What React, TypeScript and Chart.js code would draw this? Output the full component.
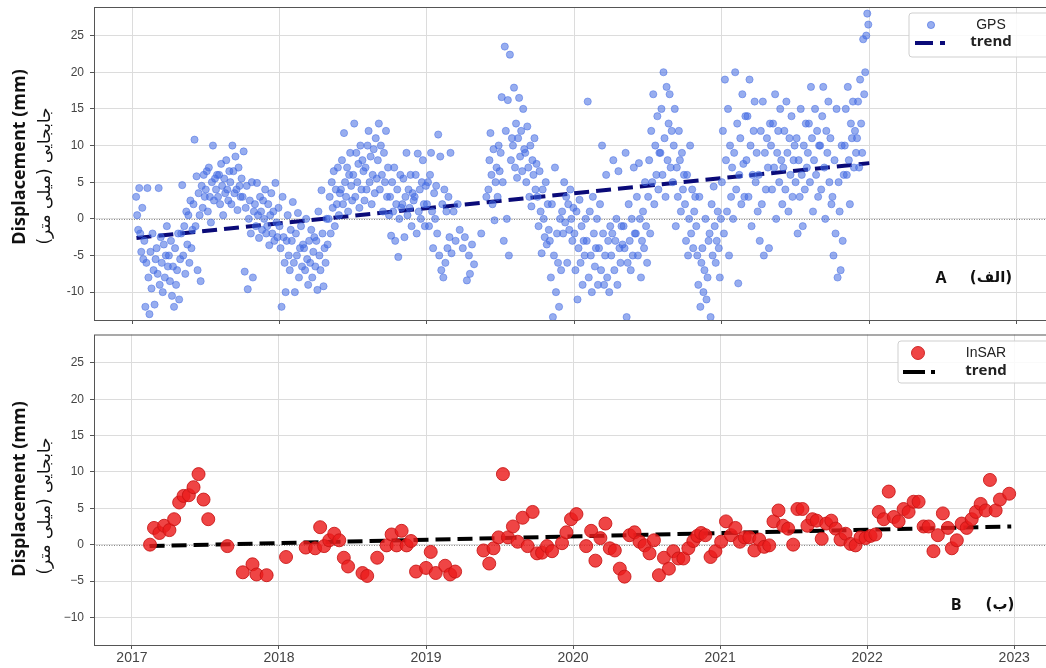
import React, { useEffect, useRef } from "react";
import { Chart, registerables } from "chart.js";

Chart.register(...registerables);

// ---------- axes ----------
const xTicks = [2017, 2018, 2019, 2020, 2021, 2022, 2023];
const yTicks = [-10, -5, 0, 5, 10, 15, 20, 25];
const X_MIN = 2016.742;
const X_MAX = 2023.247;
const Y_MIN = -13.8;
const Y_MAX = 28.9;

// ---------- GPS (daily series; one entry ~every 2.5 days) ----------
const GPS_STEP = 1 / 144;
const gpsYears = [2017, 2018, 2019, 2020, 2021];
const gpsOffsets = [4, 0, 0, 0, 0];
const gps2017 = [
  3, 0.5, -1.5, 4.2, -2, -4.5, 1.5, -5.5,
  -3, -12, -6, 4.2, -8, -13, -4.5, -9.5, -2, -7, -11.7, -5.5,
  -4, -7.5, 4.2, -9, -2.5, -6, -10, -3.5, -8, -5, -1, -6.5,
  -5, -8.5, -3, -10.5, -6.5, -12, -4, -9, -7, -2, -11, -5.5,
  -2, 4.6, -5, -1, -7.5, 1, -3.5, 0.5, -6, 2.5, -4, -1.5,
  2, 10.8, -1, 5.8, -7, 3.5, 0.5, -8.5, 4.5, 1.5, 6, 3,
  4, 6.5, 1, 7, 3, -0.5, 5, 10, 2.5, 5.5, 4, 6,
  3, 6, 2, 7.5, 4.5, 0.5, 5.5, 3.5, 8, 4, 2.5, 6.5,
  5, 2, 10, 6.5, 3.5, 8.5, 4, 1.2, 7, 4.5, 3, 5.5,
  3, 9.2, -7.2, 1.5, 4.5, -9.6, 0, 2.5, -2, 5, -8, 1,
  2, -1, 4.9, 0.5, -2.6, 3, 1, -1.5, 2.5, 0, 4, -2,
  -1, 2, -3.6, 0.5, 3.5, -2, 1, -3, 4.9, -0.5, -2.5, 1.5,
];
const gps2018 = [
  -1, -4, -12, 3, -2.5, -6, -10, -3, 0.5, -5, -7, -1.5,
  -3, 2.3, -6, -10, -2, -5, 0.8, -8, -4, -1, -6.5, -3.5,
  -4, -7, 0, -5.5, -9, -3, -6, -1.5, -8, -4.5, -2.5, -6.5,
  -3, -9.7, 1, -5, -7, 3.9, -2, -9.2, -4, -6, 0, -3.5,
  0, 3, -2, 5, 1.5, 6.5, -1, 4, 2, 7, 0.5, 3.5,
  4, 8, 2, 11.7, 5, 3, 7, 1, 6, 9, 4.5, 2.5,
  6, 13, 3, 9, 5, 7.5, 1.5, 10, 4, 8, 6.5, 2.5,
  7, 4, 10, 12, 5, 8.5, 2, 6, 9.5, 3.5, 11, 5.5,
  8, 13, 4, 10, 6, 1, 9, 5, 12, 3, 7, 0.5,
  3, -2.3, 5, 1, 7, -3, 2, 4, -5.2, 0, 6, 1.5,
  2, 5.5, -2.5, 3, 9, 0.5, 4, 1.5, 6, -1, 3.5, 2.5,
  3, 6, -2, 8.9, 1, 4, 0, 5, 8, 2, -1, 4.5,
];
const gps2019 = [
  2, 5, -1, 6, 9, 1, -4, 3.5, 0, 4.5, -2, 11.5,
  -5, 8.5, -7, 2, -8, 4, -6, 1, -4, 3, -2.5, 9,
  -4.7, null, 1, null, -3, null, 2, null, -1.5, null, null, -4,
  null, -2.5, null, -8.4, null, -5, -7.5, null, -3.5, null, -6.2, null,
  null, null, null, null, null, -2, null, null, null, null, 3, null,
  4, 8, 11.7, 6, 2, 9.5, -0.2, 5, 7, 3, 10, 6.5,
  9, 16.6, 5, -3, 23.5, 12, 0, 16.2, -5, 22.4, 8, 11,
  10, 17.9, 7, 13, 5.6, 11, 16.5, 8.5, 12, 6.5, 15, 9.5,
  9, 5, 12.6, 7, 3, 10, 1.7, 8, 6, 11, 4, 7.5,
  3, -1, 6.5, 1, -4.7, 4, 0, -2.5, 5, -3.5, 2, -1.5,
  -3, -8, 2, -13.4, -5, 7, -10, -2, -6, -12, 0, -7,
  1, -2, 5, -0.5, 3, -6, 2, -1.5, 4, 0, -3, 1.5,
];
const gps2020 = [
  -2, -7, 1, -11, -4, 2.6, -6, -1, -9, -3, -5, 0,
  -3, 16, -8, 1, -5, -10, 3, -2, -6.5, -4, 0, -9,
  -4, 2, -7, 10, -2, -9, -5, 6, -8, -3, -10, -1,
  -5, -2, 8, -7, -3, 0, -9, 6.5, -4, -6, -1, -3.5,
  -1, -4, 9, -13.4, -6, 2, -3, -7, 0, -5, 7, -2,
  -2, 3, -5, 7.6, 0, -8, -3, 1, -4, 5, -1, -6,
  3, 8, -2, 12, 5, 17, 2, 10, 6, 14, 4, 9,
  9, 15, 6, 20, 11, 3, 18, 8, 13, 17, 7, 12,
  5, 10, 15, -1, 7, 3, 12, 8, 1, 9, 4, 6,
  2, -3, 6, -5, 0, 10, -2, 4, -4, 1, 3, -1,
  -5, -9, 3, -12, -6, -4, -10, -7, 0, -11, -8, -3,
  -2, -13.4, 2, -5, 4.4, -1, -6, -3, 1, -4, -8, 0,
];
const gps2021 = [
  5, 12, -2, 19, 8, 1, 15, -5, 10, 3, 7, 0,
  9, 20, 4, 13, -8.8, 6, 11, 2, 17, 7.5, 3, 14,
  8, 14, 3, 19, 10, -1, 6, 12, 16, 5, 9, 1,
  6, -3, 12, 2, 16, -5, 9, 4, 11, 7, -4, 13,
  10, 4, 13, 7, 17, 0, 9, 12, 5, 15, 8, 2,
  7, 12, 4, 16, 9, 1, 11, 6, 14, 3, 8, 10,
  5, 11, -2, 8, 3, 15, 6, -1, 10, 4, 13, 7,
  9, 13, 5, 18, 11, 1, 8, 15, 6, 12, 3, 10,
  10, 4, 14, 18, 7, 0, 12, 9, 16, 5, 11, 2,
  3, -5, 8, -2, 15, -8, 5, 1, -7, 10, -3, 6,
  10, 15, 6, 18, 8, 2, 13, 11, 16, 7, 12, 9,
  11, 16, 7, 19, 13, 9, 24.5, 17, 20, 25, 28, 26.5,
];
const gpsSeries = [gps2017, gps2018, gps2019, gps2020, gps2021];

const gpsTrendX = [2017.03, 2022.0];
const gpsTrendY = [-2.6, 7.6];

// ---------- InSAR ----------
const insarDates = [
  2017.123, 2017.15, 2017.187, 2017.219, 2017.255, 2017.287, 2017.321, 2017.351, 2017.387, 2017.419,
  2017.453, 2017.487, 2017.519, 2017.649, 2017.754, 2017.82, 2017.847, 2017.916, 2018.048, 2018.182,
  2018.246, 2018.28, 2018.307, 2018.342, 2018.376, 2018.41, 2018.441, 2018.47, 2018.568, 2018.6,
  2018.668, 2018.732, 2018.766, 2018.8, 2018.834, 2018.868, 2018.898, 2018.932, 2019.0, 2019.032,
  2019.066, 2019.13, 2019.164, 2019.198, 2019.391, 2019.43, 2019.459, 2019.493, 2019.523, 2019.557,
  2019.591, 2019.623, 2019.657, 2019.691, 2019.725, 2019.755, 2019.789, 2019.823, 2019.857, 2019.925,
  2019.955, 2019.986, 2020.023, 2020.089, 2020.123, 2020.152, 2020.186, 2020.22, 2020.25, 2020.284,
  2020.318, 2020.35, 2020.384, 2020.418, 2020.452, 2020.486, 2020.52, 2020.55, 2020.584, 2020.618,
  2020.652, 2020.682, 2020.716, 2020.75, 2020.784, 2020.818, 2020.845, 2020.871, 2020.9, 2020.935,
  2020.968, 2021.007, 2021.04, 2021.074, 2021.104, 2021.135, 2021.167, 2021.199, 2021.233, 2021.266,
  2021.3, 2021.334, 2021.363, 2021.397, 2021.429, 2021.463, 2021.497, 2021.526, 2021.56, 2021.594,
  2021.628, 2021.657, 2021.691, 2021.722, 2021.756, 2021.786, 2021.819, 2021.853, 2021.887, 2021.921,
  2021.955, 2021.989, 2022.023, 2022.056, 2022.079, 2022.113, 2022.147, 2022.181, 2022.214, 2022.248,
  2022.282, 2022.316, 2022.35, 2022.384, 2022.418, 2022.451, 2022.481, 2022.515, 2022.549, 2022.576,
  2022.61, 2022.643, 2022.677, 2022.711, 2022.74, 2022.772, 2022.806, 2022.835, 2022.874, 2022.903,
  2022.966,
];
const insarValues = [
  0, 2.3, 1.6, 2.6, 2.0, 3.5, 5.8, 6.7, 6.8, 7.9,
  9.7, 6.2, 3.5, -0.2, -3.8, -2.7, -4.1, -4.2, -1.7, -0.4,
  -0.5, 2.4, -0.2, 0.6, 1.5, 0.6, -1.8, -3.0, -3.9, -4.3,
  -1.8, -0.1, 1.4, -0.1, 1.9, -0.1, 0.5, -3.7, -3.2, -1.0,
  -3.9, -2.9, -4.1, -3.7, -0.8, -2.6, -0.5, 1.0, 9.7, 1.0,
  2.5, 0.4, 3.7, -0.2, 4.5, -1.2, -1.1, -0.2, -0.9, 0.2,
  1.7, 3.5, 4.2, -0.2, 1.9, -2.2, 0.9, 2.9, -0.5, -0.8,
  -3.3, -4.4, 1.3, 1.7, 0.4, -0.1, -1.2, 0.6, -4.2, -1.8,
  -3.3, -0.9, -1.9, -1.9, -0.5, 0.5, 1.2, 1.6, 1.3, -1.7,
  -0.9, 0.4, 3.2, 1.3, 2.3, 0.4, 1.0, 1.0, -0.8, 0.7,
  -0.3, -0.1, 3.2, 4.7, 2.6, 2.2, 0.0, 4.9, 4.9, 2.6,
  3.5, 3.3, 0.8, 2.9, 3.3, 2.2, 0.7, 1.5, 0.1, -0.1,
  1.0, 0.9, 1.2, 1.4, 4.5, 3.5, 7.3, 3.8, 3.2, 4.9,
  4.5, 5.9, 5.9, 2.5, 2.5, -0.9, 1.3, 4.3, 2.3, -0.5,
  0.6, 2.9, 2.3, 3.5, 4.5, 5.6, 4.7, 8.9, 4.7, 6.2,
  7.0,
];
const insarTrendX = [2017.12, 2022.98];
const insarTrendY = [-0.2, 2.5];

// ---------- helpers ----------
type Pt = { x: number; y: number };

function gpsPoints(): Pt[] {
  const out: Pt[] = [];
  gpsSeries.forEach((arr, k) => {
    arr.forEach((v, i) => {
      if (v === null || v === undefined) return;
      out.push({ x: gpsYears[k] + (gpsOffsets[k] + i) * GPS_STEP, y: v as number });
    });
  });
  return out;
}
function zipPts(xs: number[], ys: number[]): Pt[] {
  return xs.map((x, i) => ({ x, y: ys[i] }));
}

const TICK_FONT = "Liberation Sans, Arial, sans-serif";

function makeOverlay(cfg: any) {
  return {
    id: "overlay_" + cfg.key,
    beforeDatasetsDraw(chart: any) {
      const { ctx, chartArea } = chart;
      const y0 = chart.scales.y.getPixelForValue(0);
      ctx.save();
      ctx.strokeStyle = "#666";
      ctx.lineWidth = 0.8;
      ctx.setLineDash([1, 1.5]);
      ctx.beginPath();
      ctx.moveTo(chartArea.left, Math.round(y0) + 0.5);
      ctx.lineTo(chartArea.right, Math.round(y0) + 0.5);
      ctx.stroke();
      ctx.restore();
    },
    afterDraw(chart: any) {
      const { ctx, chartArea } = chart;
      ctx.save();
      // frame
      ctx.strokeStyle = "#555";
      ctx.lineWidth = 1;
      ctx.setLineDash([]);
      ctx.strokeRect(chartArea.left + 0.5, chartArea.top + 0.5, chartArea.right - chartArea.left, chartArea.bottom - chartArea.top);

      // y-axis titles
      ctx.fillStyle = "#111";
      ctx.save();
      ctx.translate(20, cfg.titleY);
      ctx.rotate(-Math.PI / 2);
      ctx.textAlign = "center";
      ctx.textBaseline = "middle";
      ctx.font = "bold 18px 'Open Sans', 'Liberation Sans', sans-serif";
      ctx.fillText("Displacement (mm)", 0, 0);
      ctx.restore();

      ctx.save();
      ctx.translate(46, cfg.faTitleY);
      ctx.rotate(-Math.PI / 2);
      ctx.direction = "rtl";
      ctx.textAlign = "center";
      ctx.textBaseline = "middle";
      ctx.font = "17px 'DejaVu Sans', sans-serif";
      ctx.fillText("جابجایی (میلی متر)", 0, 0);
      ctx.restore();

      // legend box
      const L = cfg.legend;
      ctx.save();
      ctx.beginPath();
      if ((ctx as any).roundRect) (ctx as any).roundRect(L.x, L.y, L.w, L.h, 3);
      else ctx.rect(L.x, L.y, L.w, L.h);
      ctx.fillStyle = "rgba(255,255,255,0.85)";
      ctx.fill();
      ctx.strokeStyle = "#cfcfcf";
      ctx.lineWidth = 1;
      ctx.stroke();
      // marker
      ctx.beginPath();
      ctx.arc(L.dotX, L.dotY, L.dotR, 0, Math.PI * 2);
      ctx.fillStyle = L.dotFill;
      ctx.fill();
      ctx.strokeStyle = L.dotStroke;
      ctx.lineWidth = 1;
      ctx.stroke();
      // line sample
      ctx.beginPath();
      ctx.setLineDash(L.dash);
      ctx.strokeStyle = L.lineColor;
      ctx.lineWidth = 4;
      ctx.moveTo(L.lineX0, L.lineY);
      ctx.lineTo(L.lineX1, L.lineY);
      ctx.stroke();
      ctx.setLineDash([]);
      // texts
      ctx.fillStyle = "#222";
      ctx.textAlign = "center";
      ctx.textBaseline = "middle";
      ctx.font = "14px 'Liberation Sans', Arial, sans-serif";
      ctx.fillText(L.label, L.textX, L.dotY);
      ctx.font = "bold 15px 'Open Sans', 'Liberation Sans', sans-serif";
      ctx.fillText("trend", L.textX, L.lineY - 1);
      ctx.restore();

      // panel letters
      ctx.save();
      ctx.fillStyle = "#111";
      ctx.textAlign = "center";
      ctx.textBaseline = "middle";
      ctx.font = "bold 16px 'Open Sans', 'Liberation Sans', sans-serif";
      ctx.fillText(cfg.letter, cfg.letterX, cfg.letterY);
      ctx.direction = "rtl";
      ctx.font = "bold 15px 'DejaVu Sans', sans-serif";
      ctx.fillText(cfg.faLetter, cfg.faLetterX, cfg.letterY);
      ctx.restore();

      ctx.restore();
    },
  };
}

function scales(showXLabels: boolean, xHeight: number, minusSign: string) {
  return {
    x: {
      type: "linear" as const,
      min: X_MIN,
      max: X_MAX,
      afterBuildTicks: (s: any) => {
        s.ticks = xTicks.map((v) => ({ value: v }));
      },
      afterFit: (s: any) => {
        s.height = xHeight;
        s.paddingLeft = 0;
        s.paddingRight = 0;
        s.paddingTop = 0;
        s.paddingBottom = 0;
      },
      border: { display: false },
      grid: { color: "#dcdcdc", lineWidth: 1, drawTicks: true, tickLength: 4, tickColor: "#555" },
      ticks: {
        display: showXLabels,
        color: "#444",
        font: { family: TICK_FONT, size: 14 },
        padding: 1,
        maxRotation: 0,
        autoSkip: false,
        callback: (v: any) => String(v),
      },
    },
    y: {
      type: "linear" as const,
      min: Y_MIN,
      max: Y_MAX,
      afterBuildTicks: (s: any) => {
        s.ticks = yTicks.map((v) => ({ value: v }));
      },
      afterFit: (s: any) => {
        s.width = 94;
        s.paddingLeft = 0;
        s.paddingRight = 0;
        s.paddingTop = 0;
        s.paddingBottom = 0;
      },
      border: { display: false },
      grid: { color: "#dcdcdc", lineWidth: 1, drawTicks: true, tickLength: 4, tickColor: "#555" },
      ticks: {
        color: "#444",
        font: { family: TICK_FONT, size: 12 },
        padding: 6,
        callback: (v: any) => (v < 0 ? minusSign + String(Math.abs(v)) : String(v)),
      },
    },
  };
}

export default function App() {
  const topRef = useRef<HTMLCanvasElement | null>(null);
  const botRef = useRef<HTMLCanvasElement | null>(null);

  useEffect(() => {
    if (!topRef.current || !botRef.current) return;
    const top = new Chart(topRef.current, {
      type: "scatter",
      data: {
        datasets: [
          {
            label: "GPS",
            data: gpsPoints(),
            pointRadius: 3.6,
            pointBackgroundColor: "rgba(65,105,225,0.55)",
            pointBorderColor: "rgba(65,105,225,0.6)",
            pointBorderWidth: 0.8,
          },
          {
            label: "trend",
            data: zipPts(gpsTrendX, gpsTrendY),
            showLine: true,
            pointRadius: 0,
            borderColor: "#0a0a78",
            borderWidth: 4,
            borderDash: [15, 7],
          },
        ],
      },
      options: {
        responsive: false,
        animation: false,
        events: [],
        layout: { padding: { top: 7, left: 0, right: 0, bottom: 0 } },
        plugins: { legend: { display: false }, tooltip: { enabled: false } },
        scales: scales(false, 7, "-"),
      },
      plugins: [
        makeOverlay({
          key: "top",
          titleY: 157,
          faTitleY: 176,
          letter: "A",
          letterX: 941,
          faLetter: "(الف)",
          faLetterX: 991,
          letterY: 278,
          legend: {
            x: 909, y: 13, w: 160, h: 44,
            dotX: 931, dotY: 25, dotR: 3.6,
            dotFill: "rgba(65,105,225,0.55)", dotStroke: "rgba(65,105,225,0.6)",
            lineX0: 915, lineX1: 945, lineY: 43, dash: [18, 7], lineColor: "#0a0a78",
            label: "GPS", textX: 991,
          },
        }),
      ],
    });

    const bot = new Chart(botRef.current, {
      type: "scatter",
      data: {
        datasets: [
          {
            label: "InSAR",
            data: zipPts(insarDates, insarValues),
            pointRadius: 6.5,
            pointBackgroundColor: "rgba(236,28,28,0.82)",
            pointBorderColor: "rgba(200,20,20,0.85)",
            pointBorderWidth: 1,
          },
          {
            label: "trend",
            data: zipPts(insarTrendX, insarTrendY),
            showLine: true,
            pointRadius: 0,
            borderColor: "#000",
            borderWidth: 4,
            borderDash: [15, 7],
          },
        ],
      },
      options: {
        responsive: false,
        animation: false,
        events: [],
        layout: { padding: { top: 7, left: 0, right: 0, bottom: 0 } },
        plugins: { legend: { display: false }, tooltip: { enabled: false } },
        scales: scales(true, 23, "\u2212"),
      },
      plugins: [
        makeOverlay({
          key: "bot",
          titleY: 162,
          faTitleY: 179,
          letter: "B",
          letterX: 956,
          faLetter: "(ب)",
          faLetterX: 1000,
          letterY: 278,
          legend: {
            x: 898, y: 14, w: 170, h: 42,
            dotX: 918, dotY: 26, dotR: 6.5,
            dotFill: "rgba(236,28,28,0.82)", dotStroke: "rgba(200,20,20,0.85)",
            lineX0: 903, lineX1: 935, lineY: 45, dash: [22, 6], lineColor: "#000",
            label: "InSAR", textX: 986,
          },
        }),
      ],
    });

    return () => {
      top.destroy();
      bot.destroy();
    };
  }, []);

  return (
    <div
      style={{
        position: "fixed",
        left: 0,
        top: 0,
        width: 1046,
        height: 668,
        overflow: "hidden",
        background: "#fff",
      }}
    >
      <canvas ref={topRef} width={1058} height={327} style={{ position: "absolute", left: 0, top: 0 }} />
      <canvas ref={botRef} width={1058} height={341} style={{ position: "absolute", left: 0, top: 327 }} />
    </div>
  );
}
